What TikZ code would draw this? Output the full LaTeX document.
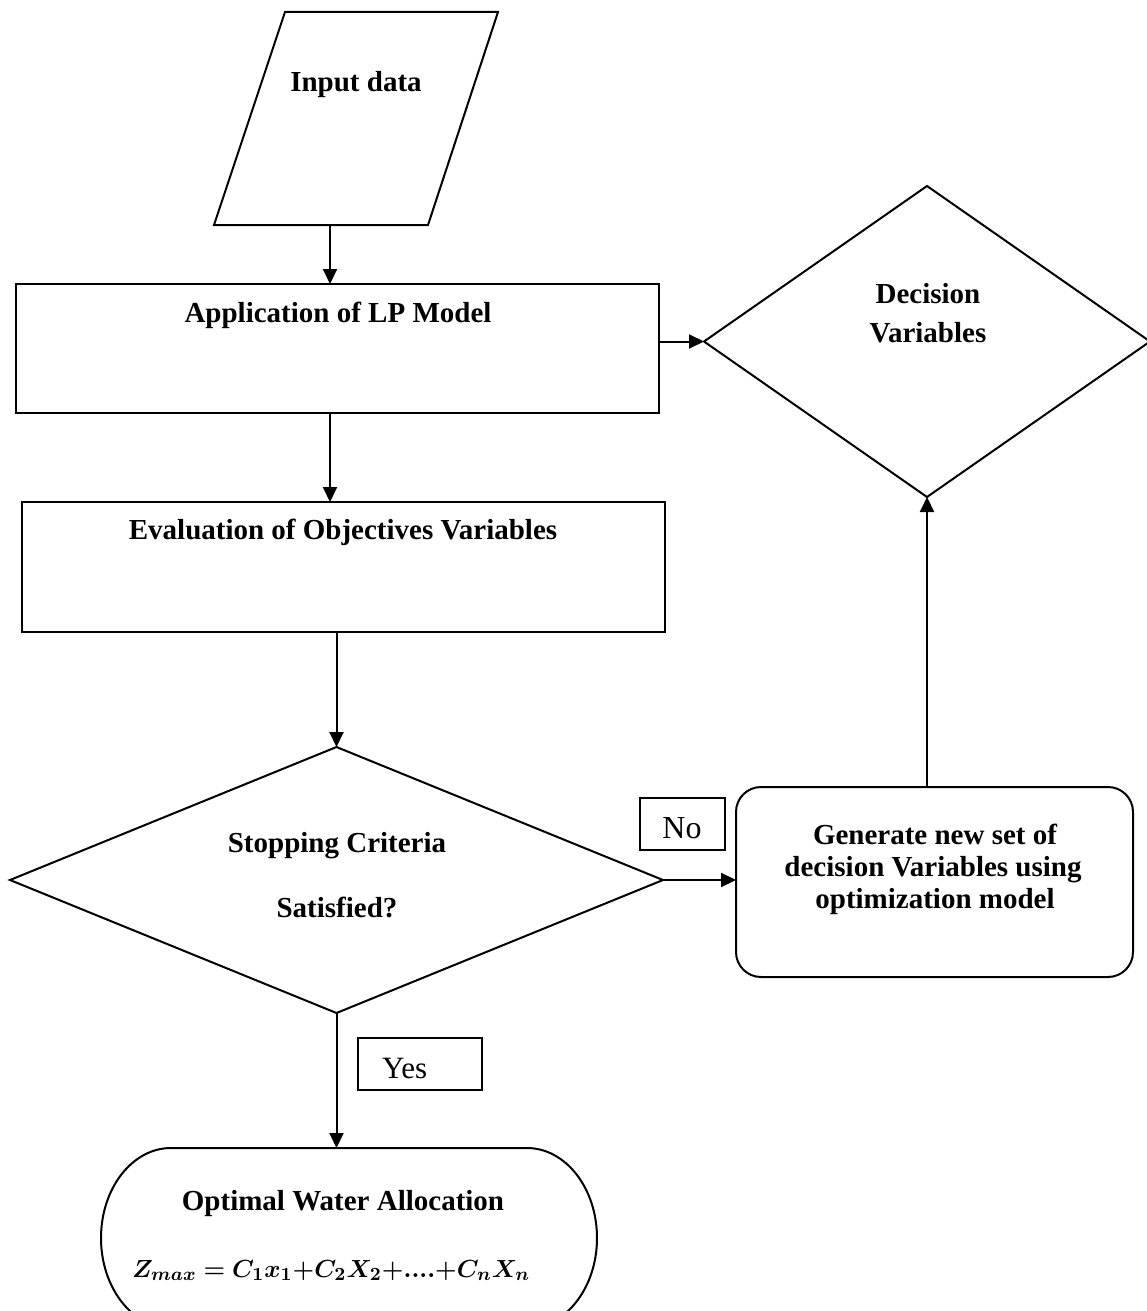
\documentclass[tikz,border=0pt]{standalone}
\usepackage{amsmath}
\usepackage{bm}
\usepackage{graphicx}
\usepackage{fontspec}
\setmainfont{Liberation Serif}
\usetikzlibrary{arrows.meta,shapes.geometric}
\begin{document}
\begin{tikzpicture}[x=0.5pt,y=-0.5pt,line width=1pt,
  arr/.style={-{Triangle[length=7.5pt,width=7pt]}},
  txt/.style={font=\fontsize{14.5}{17}\selectfont\bfseries,inner sep=0pt,anchor=base},
  plain/.style={font=\fontsize{16}{19}\selectfont,inner sep=0pt,anchor=base},
  boxnode/.style={draw,rectangle,inner sep=0pt,outer sep=0pt},
  dia/.style={draw,diamond,inner sep=0pt,outer sep=0pt}]
\useasboundingbox (0,0) rectangle (1146,1311);
% input parallelogram
\draw (285,12) -- (498,12) -- (428,225) -- (214,225) -- cycle;
\coordinate (inpS) at (330,225);
\node[txt] (inpT) at (356,91) {Input data};
% boxes
\node[boxnode,minimum width=321.5pt,minimum height=64.5pt] (app) at (337.5,348.5) {};
\node[txt] (appT) at (338,322) {Application of LP Model};
\node[boxnode,minimum width=321.5pt,minimum height=65pt] (eval) at (343.5,567) {};
\node[txt] (evalT) at (343,539) {Evaluation of Objectives Variables};
% decision variables diamond
\node[dia,minimum width=223pt,minimum height=155.5pt] (dec) at (927,341.5) {};
\node[txt] (decT1) at (928,303) {Decision};
\node[txt] (decT2) at (928,342) {Variables};
% stopping diamond
\node[dia,minimum width=326.5pt,minimum height=133pt] (stop) at (336.5,880) {};
\node[txt] (stopT1) at (337,852) {Stopping Criteria};
\node[txt] (stopT2) at (337,917) {Satisfied?};
% generate box
\node[boxnode,rounded corners=12.5pt,minimum width=198.5pt,minimum height=95pt] (gen) at (934.5,882) {};
\node[txt] (genT1) at (935,844) {Generate new set of};
\node[txt] (genT2) at (933,876) {decision Variables using};
\node[txt] (genT3) at (935,908) {optimization model};
% No / Yes boxes
\node[boxnode,minimum width=42.5pt,minimum height=26pt] (nob) at (682.5,824) {};
\node[plain] (noT) at (682,838) {No};
\node[boxnode,minimum width=62pt,minimum height=26pt] (yesb) at (420,1064) {};
\node[plain,anchor=base west,font=\fontsize{15.5}{18}\selectfont] (yesT) at (381,1078) {Yes};
% terminator
\draw (171,1148) -- (527,1148) arc[start angle=90,end angle=-90,x radius=35pt,y radius=45pt]
  -- (171,1328) arc[start angle=270,end angle=90,x radius=35pt,y radius=45pt] -- cycle;
\coordinate (termN) at (336.5,1148);
\node[txt] (termT1) at (343,1210) {Optimal Water Allocation};
\node[inner sep=0pt,anchor=base,font=\fontsize{13.2}{16}\selectfont] (termT2) at (331,1277)
  {\resizebox{199pt}{!}{$\bm{Z_{max} = C_1x_1{+}C_2X_2{+}....{+}C_nX_n}$}};
% connectors
\draw[arr] (inpS) -- (inpS |- app.north);
\draw[arr] (app.south -| inpS) -- (eval.north -| inpS);
\draw[arr] (eval.south -| stop.north) -- (stop.north);
\draw[arr] (app.east |- dec.west) -- (dec.west);
\draw[arr] (gen.north -| dec.south) -- (dec.south);
\draw[arr] (stop.east) -- (gen.west |- stop.east);
\draw[arr] (stop.south) -- (termN);
\end{tikzpicture}
\end{document}
